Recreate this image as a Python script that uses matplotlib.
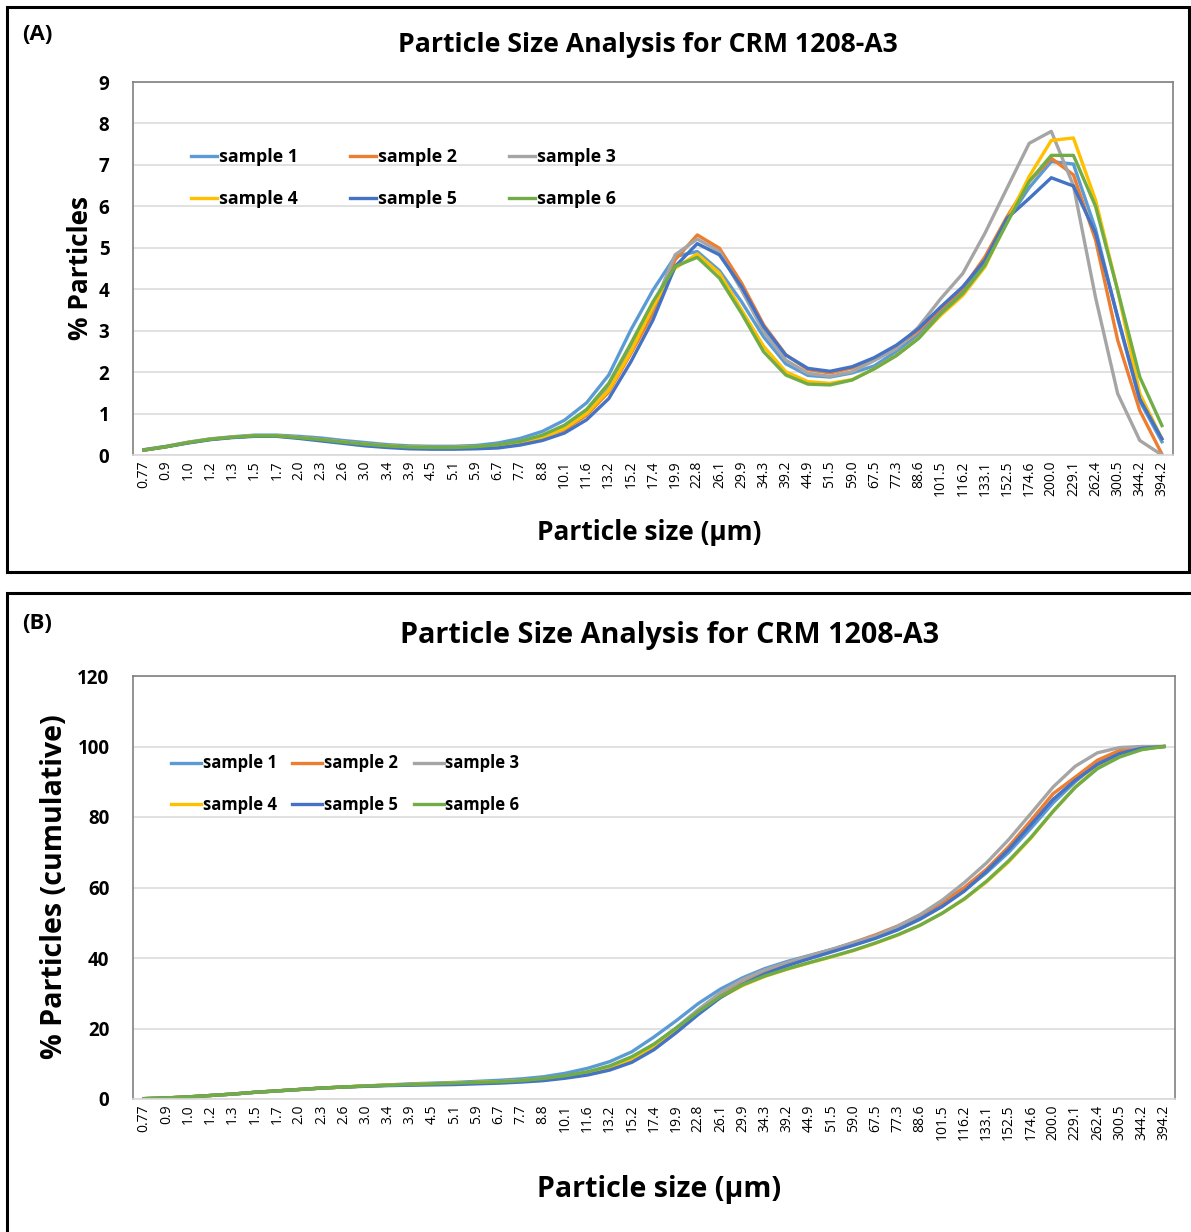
import numpy as np
import matplotlib
matplotlib.use("Agg")
import matplotlib.pyplot as plt
from matplotlib.patches import Rectangle

plt.rcParams['font.family'] = ['Open Sans', 'DejaVu Sans']

# ---------------- data ----------------
sizes = ['0.77', '0.9', '1.0', '1.2', '1.3', '1.5', '1.7', '2.0', '2.3', '2.6',
         '3.0', '3.4', '3.9', '4.5', '5.1', '5.9', '6.7', '7.7', '8.8', '10.1',
         '11.6', '13.2', '15.2', '17.4', '19.9', '22.8', '26.1', '29.9', '34.3',
         '39.2', '44.9', '51.5', '59.0', '67.5', '77.3', '88.6', '101.5', '116.2',
         '133.1', '152.5', '174.6', '200.0', '229.1', '262.4', '300.5', '344.2',
         '394.2']

names = ['sample 1', 'sample 2', 'sample 3', 'sample 4', 'sample 5', 'sample 6']
colors = ['#5B9BD5', '#ED7D31', '#A5A5A5', '#FFC000', '#4472C4', '#70AD47']

# (A) % particles per size class
s1 = [0.13, 0.21, 0.31, 0.39, 0.44, 0.48, 0.48, 0.45, 0.41, 0.35, 0.30, 0.25, 0.22, 0.21,
      0.21, 0.23, 0.29, 0.40, 0.57, 0.84, 1.26, 1.93, 3.02, 3.98, 4.79, 4.91, 4.45, 3.70,
      2.85, 2.20, 1.92, 1.88, 1.98, 2.15, 2.50, 2.90, 3.45, 3.95, 4.66, 5.65, 6.45, 7.08,
      7.02, 5.45, 3.30, 1.30, 0.32]
s2 = [0.12, 0.20, 0.30, 0.38, 0.43, 0.46, 0.46, 0.42, 0.37, 0.31, 0.26, 0.22, 0.19, 0.18,
      0.18, 0.20, 0.23, 0.31, 0.44, 0.61, 0.96, 1.52, 2.45, 3.42, 4.71, 5.31, 4.99, 4.15,
      3.14, 2.42, 2.06, 1.98, 2.10, 2.33, 2.60, 3.00, 3.53, 4.02, 4.78, 5.75, 6.60, 7.16,
      6.76, 5.19, 2.77, 1.07, 0.02]
s3 = [0.12, 0.20, 0.30, 0.38, 0.43, 0.46, 0.46, 0.42, 0.37, 0.31, 0.26, 0.22, 0.19, 0.18,
      0.18, 0.20, 0.24, 0.32, 0.45, 0.68, 1.04, 1.65, 2.57, 3.54, 4.83, 5.21, 4.91, 3.98,
      2.98, 2.29, 1.97, 1.90, 2.01, 2.28, 2.56, 3.09, 3.77, 4.38, 5.35, 6.44, 7.52, 7.81,
      6.50, 3.80, 1.48, 0.35, 0.00]
s4 = [0.12, 0.20, 0.30, 0.38, 0.43, 0.46, 0.46, 0.42, 0.37, 0.31, 0.26, 0.22, 0.19, 0.18,
      0.18, 0.20, 0.22, 0.30, 0.42, 0.64, 1.00, 1.56, 2.49, 3.58, 4.51, 4.85, 4.39, 3.50,
      2.62, 2.01, 1.77, 1.73, 1.82, 2.08, 2.40, 2.82, 3.37, 3.85, 4.54, 5.65, 6.72, 7.59,
      7.65, 6.15, 3.97, 1.48, 0.39]
s5 = [0.12, 0.20, 0.29, 0.37, 0.42, 0.45, 0.45, 0.40, 0.34, 0.28, 0.22, 0.18, 0.15, 0.14,
      0.14, 0.15, 0.17, 0.24, 0.35, 0.53, 0.85, 1.36, 2.25, 3.26, 4.55, 5.10, 4.83, 4.06,
      3.10, 2.41, 2.09, 2.02, 2.13, 2.35, 2.65, 3.05, 3.57, 4.06, 4.70, 5.71, 6.19, 6.69,
      6.49, 5.35, 3.33, 1.35, 0.39]
s6 = [0.12, 0.20, 0.30, 0.38, 0.43, 0.46, 0.46, 0.42, 0.37, 0.31, 0.26, 0.22, 0.19, 0.18,
      0.18, 0.20, 0.25, 0.33, 0.48, 0.72, 1.10, 1.73, 2.69, 3.70, 4.55, 4.77, 4.27, 3.42,
      2.49, 1.93, 1.71, 1.69, 1.81, 2.08, 2.40, 2.81, 3.41, 3.90, 4.58, 5.60, 6.60, 7.23,
      7.23, 6.00, 3.97, 1.88, 0.71]

# (B) cumulative % particles
c1 = [0.1, 0.3, 0.6, 1.0, 1.4, 1.9, 2.3, 2.7, 3.1, 3.4, 3.7, 4.0, 4.3, 4.5, 4.7, 5.0,
      5.3, 5.7, 6.3, 7.3, 8.7, 10.6, 13.4, 17.6, 22.2, 27.1, 31.2, 34.4, 37.0, 39.0,
      40.7, 42.4, 44.2, 46.2, 48.6, 51.6, 55.0, 59.2, 64.2, 70.0, 76.8, 84.0, 90.0,
      95.3, 98.5, 99.7, 100.0]
c2 = [0.1, 0.3, 0.6, 1.0, 1.4, 1.9, 2.3, 2.7, 3.1, 3.4, 3.7, 3.9, 4.1, 4.3, 4.5, 4.7,
      4.9, 5.2, 5.7, 6.4, 7.4, 9.0, 11.5, 15.0, 19.7, 25.0, 29.9, 33.7, 36.4, 38.5,
      40.5, 42.3, 44.4, 46.6, 49.1, 52.2, 55.8, 60.0, 65.2, 71.6, 79.0, 86.6, 91.3,
      96.1, 98.9, 99.9, 100.0]
c3 = [0.1, 0.3, 0.6, 1.0, 1.4, 1.9, 2.3, 2.7, 3.1, 3.4, 3.7, 3.9, 4.1, 4.3, 4.5, 4.7,
      4.9, 5.2, 5.8, 6.5, 7.6, 9.2, 11.8, 15.4, 20.2, 25.4, 30.2, 33.9, 36.6, 38.7,
      40.6, 42.4, 44.4, 46.3, 49.0, 52.3, 56.4, 61.4, 67.0, 73.6, 81.0, 88.5, 94.4,
      98.2, 99.7, 100.0, 100.0]
c4 = [0.1, 0.3, 0.6, 1.0, 1.4, 1.9, 2.3, 2.7, 3.1, 3.4, 3.7, 3.9, 4.1, 4.3, 4.5, 4.7,
      4.9, 5.2, 5.6, 6.3, 7.3, 8.8, 11.3, 14.8, 19.4, 24.3, 28.8, 32.2, 34.8, 36.8,
      38.6, 40.3, 42.1, 44.2, 46.5, 49.3, 52.7, 56.7, 61.6, 67.3, 74.0, 81.6, 88.5,
      94.0, 97.3, 99.2, 100.0]
c5 = [0.1, 0.3, 0.6, 1.0, 1.4, 1.9, 2.3, 2.7, 3.1, 3.4, 3.6, 3.8, 3.9, 4.0, 4.1, 4.3,
      4.5, 4.8, 5.2, 5.9, 6.8, 8.2, 10.4, 14.0, 18.8, 24.0, 28.8, 32.6, 35.5, 37.8,
      39.8, 41.7, 43.6, 45.6, 48.0, 51.0, 54.6, 59.0, 64.6, 70.8, 77.8, 85.0, 90.4,
      94.9, 98.0, 99.5, 100.0]
c6 = [0.1, 0.3, 0.6, 1.0, 1.4, 1.9, 2.3, 2.7, 3.1, 3.4, 3.7, 3.9, 4.1, 4.3, 4.5, 4.7,
      4.9, 5.2, 5.8, 6.6, 7.7, 9.4, 12.0, 15.6, 20.1, 24.8, 29.1, 32.4, 34.9, 36.9,
      38.7, 40.4, 42.2, 44.3, 46.6, 49.3, 52.7, 56.8, 61.8, 67.6, 74.2, 81.6, 88.4,
      93.7, 97.0, 99.1, 100.0]

pct = [s1, s2, s3, s4, s5, s6]
cum = [c1, c2, c3, c4, c5, c6]

# ---------------- figure ----------------
W, H = 1191, 1232
fig = plt.figure(figsize=(W / 100, H / 100), dpi=100)

def fx(px):
    return px / W

def fy(py):
    return 1 - py / H

# panel frames
fig.patches.append(Rectangle((fx(7), fy(572)), fx(1182), 565 / H, transform=fig.transFigure,
                             fill=False, edgecolor='black', linewidth=2.2))
fig.patches.append(Rectangle((fx(7), fy(1240)), fx(1200), 647 / H, transform=fig.transFigure,
                             fill=False, edgecolor='black', linewidth=2.2))

x = np.arange(len(sizes))


def style_axes(ax, ymax, ystep, tick_fs):
    ax.set_xlim(-0.5, len(sizes) - 0.5)
    ax.set_ylim(0, ymax)
    ax.set_yticks(np.arange(0, ymax + ystep / 2, ystep))
    ax.yaxis.grid(True, color='#D9D9D9', linewidth=1.1)
    ax.set_axisbelow(True)
    ax.set_xticks(x)
    ax.set_xticklabels(sizes, rotation=90, fontsize=10)
    ax.tick_params(axis='x', length=0, pad=4)
    ax.tick_params(axis='y', length=0, pad=17, labelsize=tick_fs)
    for lab in ax.get_yticklabels():
        lab.set_fontweight('bold')
    for side in ['left', 'top', 'right']:
        ax.spines[side].set_color('#808080')
        ax.spines[side].set_linewidth(1.2)
    ax.spines['bottom'].set_color('#D9D9D9')
    ax.spines['bottom'].set_linewidth(1.2)


order = [0, 3, 1, 4, 2, 5]

# ---- (A) ----
axA = fig.add_axes([fx(133), fy(455), fx(1173 - 133), (455 - 82) / H])
linesA = []
for vals, nm, col in zip(pct, names, colors):
    ln, = axA.plot(x, vals, color=col, linewidth=2.4, label=nm)
    linesA.append(ln)
style_axes(axA, 9, 1, 13.5)
axA.legend([linesA[i] for i in order], [names[i] for i in order], ncol=3, frameon=False,
           loc='upper left', bbox_to_anchor=(0.04, 0.865), handlelength=1.5,
           handletextpad=0.1, columnspacing=2.9, labelspacing=1.35,
           prop={'weight': 'bold', 'size': 12.8})

fig.text(fx(22), fy(35), '(A)', fontsize=16, fontweight='bold', va='center', ha='left')
fig.text(fx(648), fy(45), 'Particle Size Analysis for CRM 1208-A3', fontsize=19.2,
         fontweight='bold', ha='center', va='center')
fig.text(fx(80), fy(268), '% Particles', fontsize=18.9, fontweight='bold', rotation=90,
         ha='center', va='center')
fig.text(fx(649), fy(533), 'Particle size (µm)', fontsize=18.9, fontweight='bold',
         ha='center', va='center')

# ---- (B) ----
axB = fig.add_axes([fx(133), fy(1099), fx(1175 - 133), (1099 - 676) / H])
linesB = []
for vals, nm, col in zip(cum, names, colors):
    ln, = axB.plot(x, vals, color=col, linewidth=2.4, label=nm)
    linesB.append(ln)
style_axes(axB, 120, 20, 13.5)
axB.legend([linesB[i] for i in order], [names[i] for i in order], ncol=3, frameon=False,
           loc='upper left', bbox_to_anchor=(0.022, 0.85), handlelength=1.8,
           handletextpad=0.1, columnspacing=0.95, labelspacing=1.4,
           prop={'weight': 'bold', 'size': 12})

fig.text(fx(22), fy(623), '(B)', fontsize=16, fontweight='bold', va='center', ha='left')
fig.text(fx(670), fy(636), 'Particle Size Analysis for CRM 1208-A3', fontsize=20.7,
         fontweight='bold', ha='center', va='center')
fig.text(fx(55), fy(887), '% Particles (cumulative)', fontsize=20.6, fontweight='bold',
         rotation=90, ha='center', va='center')
fig.text(fx(659), fy(1190), 'Particle size (µm)', fontsize=20.5, fontweight='bold',
         ha='center', va='center')

fig.savefig('out.png', dpi=100)
